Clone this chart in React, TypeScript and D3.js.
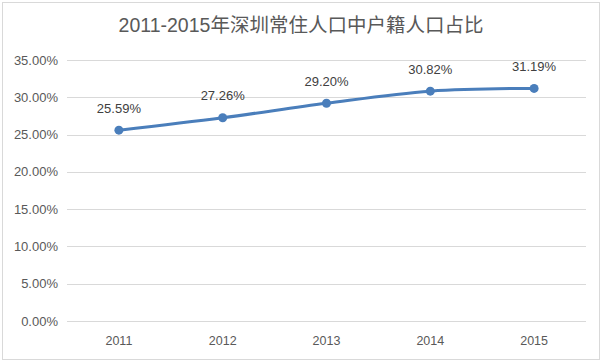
import * as d3 from 'd3'
import React from 'react'

const years = ['2011', '2012', '2013', '2014', '2015']
const shares = [25.59, 27.26, 29.2, 30.82, 31.19]
const yTicks = [0, 5, 10, 15, 20, 25, 30, 35]
const title = '2011-2015年深圳常住人口中户籍人口占比'

const W = 602, H = 362
const font = '"Liberation Sans", "Noto Sans CJK SC", sans-serif'

export default function App() {
  const
    margin = { left: 67, right: 16, top: 60, bottom: 41 },
    x = d3.scaleBand<string>().domain(years).range([margin.left, W - margin.right]),
    y = d3.scaleLinear().domain([0, 35]).range([H - margin.bottom, margin.top]),
    cx = (d: string) => x(d)! + x.bandwidth() / 2,
    pts = years.map((yr, i) => [cx(yr), y(shares[i])] as [number, number]),
    line = d3.line().curve(d3.curveCatmullRom.alpha(0.5))(pts)

  return (
    <div style={{ position: 'fixed', left: 0, top: 0 }}>
      <svg width={W} height={H} style={{ display: 'block', fontFamily: font }}>
        <rect x={0} y={0} width={W} height={H} fill='#fff' />
        <rect x={2.5} y={2.5} width={W - 5} height={H - 5} fill='none' stroke='#d9d9d9' />
        <text x={W / 2} y={32} textAnchor='middle' fontSize={19.5} fill='#595959'>{title}</text>
        {yTicks.map(t => (
          <g key={t}>
            <line x1={margin.left} x2={W - margin.right} y1={Math.round(y(t)) + 0.5} y2={Math.round(y(t)) + 0.5} stroke='#d9d9d9' />
            <text x={margin.left - 9} y={y(t)} dy='0.35em' textAnchor='end' fontSize={13} fill='#595959'>{t.toFixed(2)}%</text>
          </g>
        ))}
        {years.map(yr => (
          <text key={yr} x={cx(yr)} y={H - margin.bottom + 20} dy='0.35em' textAnchor='middle' fontSize={12.5} fill='#595959'>{yr}</text>
        ))}
        <path d={line!} fill='none' stroke='#4a7ebb' strokeWidth={3} strokeLinecap='round' />
        {pts.map((p, i) => (
          <g key={i}>
            <circle cx={p[0]} cy={p[1]} r={4.5} fill='#4a7ebb' />
            <text x={p[0]} y={p[1] - 22} dy='0.35em' textAnchor='middle' fontSize={13} fill='#404040'>{shares[i].toFixed(2)}%</text>
          </g>
        ))}
      </svg>
    </div>
  )
}
